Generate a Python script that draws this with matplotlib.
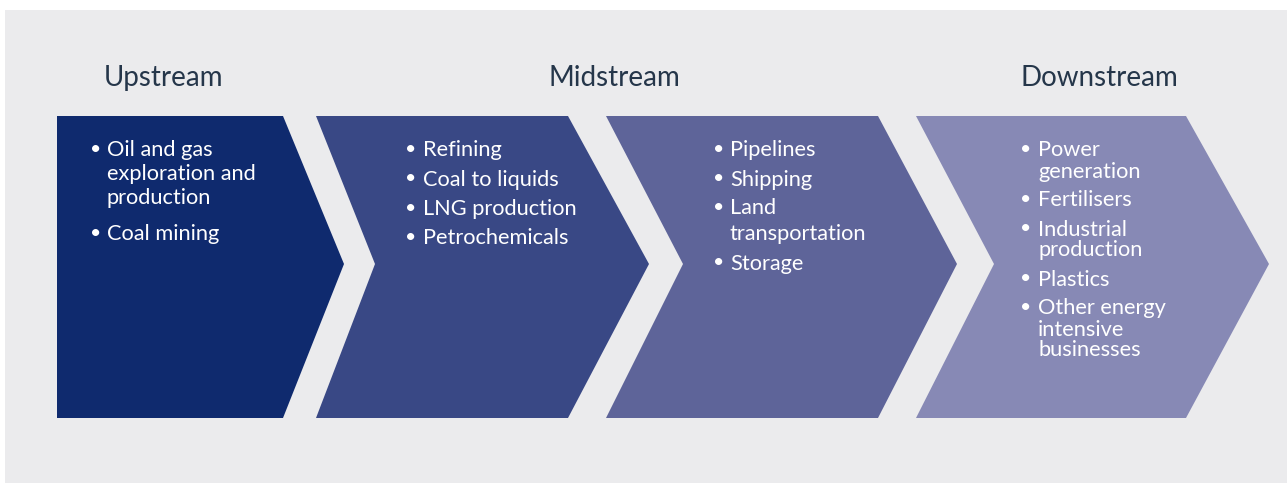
import matplotlib
matplotlib.use("Agg")
import matplotlib.pyplot as plt
from matplotlib.patches import Polygon, Rectangle

# ---- content ----
stage_titles = ["Upstream", "Midstream", "Downstream"]
title_x = [163, 614, 1099]

upstream_items = [["Oil and gas", "exploration and", "production"], ["Coal mining"]]
midstream_items = [["Refining"], ["Coal to liquids"], ["LNG production"], ["Petrochemicals"]]
transport_items = [["Pipelines"], ["Shipping"], ["Land", "transportation"], ["Storage"]]
downstream_items = [["Power", "generation"], ["Fertilisers"], ["Industrial", "production"],
                    ["Plastics"], ["Other energy", "intensive", "businesses"]]
panel_items = [upstream_items, midstream_items, transport_items, downstream_items]

# ---- style / layout ----
W, H = 1287, 483
bg_color = "#EBEBED"
fill_colors = ["#0F2A6E", "#394885", "#5E6499", "#8789B5"]
title_color = "#25364A"
font = ["Lato", "DejaVu Sans"]

# chevron geometry: (left, notch, body_right, tip)
chevrons = [(57, None, 283, 344), (316, 375, 568, 649),
            (606, 683, 878, 957), (916, 994, 1186, 1269)]
top, bottom, mid = 116, 418, 264
bullet_x = [96, 411, 719, 1026]
text_x = [107, 423, 730, 1038]
wrap_gap = [24, 29, 26, 21]
item_gap = [36, 29.3, 29, 29]
first_y = 150.5

fig = plt.figure(figsize=(W / 100, H / 100), dpi=100)
ax = fig.add_axes([0, 0, 1, 1])
ax.set_xlim(0, W)
ax.set_ylim(H, 0)
ax.axis("off")
fig.patch.set_facecolor("white")

ax.add_patch(Rectangle((5, 10), W - 5, H - 10, facecolor=bg_color, edgecolor="none"))

for (l, n, r, t), c in zip(chevrons, fill_colors):
    pts = [(l, top), (r, top), (t, mid), (r, bottom), (l, bottom)]
    if n is not None:
        pts.append((n, mid))
    ax.add_patch(Polygon(pts, closed=True, facecolor=c, edgecolor="none"))

for s, x in zip(stage_titles, title_x):
    ax.text(x, 78, s, ha="center", va="center", fontsize=20, color=title_color, family=font)

for i, items in enumerate(panel_items):
    y = first_y
    for item in items:
        ax.text(bullet_x[i], y - 1, "\u2022", ha="center", va="center", fontsize=14,
                color="white", family=font)
        for j, line in enumerate(item):
            ax.text(text_x[i], y, line, ha="left", va="center", fontsize=15.7,
                    color="white", family=font)
            if j < len(item) - 1:
                y += wrap_gap[i]
        y += item_gap[i]

fig.savefig("out.png", dpi=100, facecolor="white")
